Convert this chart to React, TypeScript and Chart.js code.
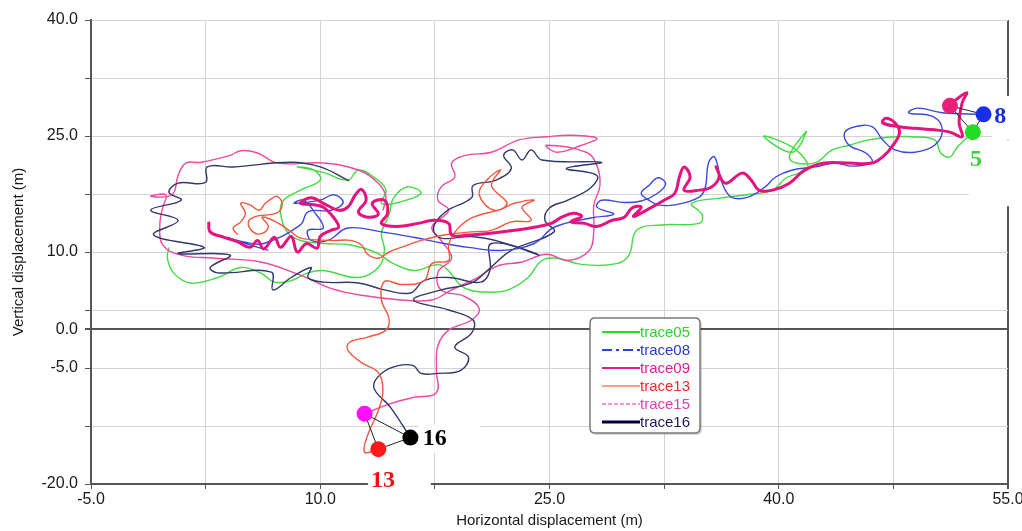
import React, { useEffect, useRef } from 'react';
import { Chart, registerables } from 'chart.js';

Chart.register(...registerables);

type P = [number, number];

// ---- axes ----
const xGrid = [-5, 2.5, 10, 17.5, 25, 32.5, 40, 47.5, 55];
const xLabels = [-5, 10, 25, 40, 55];
const yGrid = [-20, -12.5, -5, 0, 2.5, 10, 17.5, 25, 32.5, 40];
const yLabels = [-20, -5, 0, 10, 25, 40];

// ---- traces (horizontal m, vertical m) ----
const trace05: P[] = [
  [52.7, 25.5], [51.7, 23.6], [51.2, 22.3], [50.6, 22.8], [50.2, 24.5], [48.7, 24.9], [47.6, 24.9], [45.9, 24.5],
  [44.6, 23.8], [43.5, 23.2], [42.3, 21.5], [40.7, 22.1], [41.8, 25.6], [40.9, 22.9], [39.0, 25.0], [41.0, 23.4],
  [41.9, 20.8], [40.5, 19.6], [39.6, 18.0], [37.9, 17.4], [36.3, 17.0], [34.3, 16.3], [35.0, 14.8], [34.8, 13.7],
  [32.3, 13.5], [30.7, 12.8], [30.2, 9.6], [29.4, 8.5], [27.1, 8.4], [25.5, 9.2], [24.5, 8.9], [23.6, 6.7],
  [22.3, 5.1], [21.2, 4.8], [19.4, 5.4], [17.9, 8.3], [16.1, 7.6], [14.6, 8.7], [13.8, 9.8], [12.0, 10.9],
  [10.2, 11.1], [8.7, 11.5], [7.9, 12.4], [7.4, 15.0], [7.6, 16.7], [8.7, 18.0], [10.0, 19.3], [9.6, 20.6],
  [8.5, 21.0], [10.2, 20.3], [11.8, 19.3], [12.5, 20.6], [13.5, 19.7], [14.3, 18.0], [14.0, 16.3], [15.1, 16.4],
  [16.6, 17.6], [15.7, 18.4], [14.8, 17.0], [14.5, 14.8], [14.0, 12.4], [14.2, 10.2], [13.8, 8.0], [12.5, 6.7],
  [10.2, 7.6], [9.2, 7.3], [8.1, 6.3], [7.0, 6.1], [6.1, 7.3], [4.8, 8.0], [3.3, 6.7], [1.5, 6.0],
  [0.4, 7.3], [0.0, 9.2], [0.1, 10.6],
];

const trace08: P[] = [
  [53.4, 27.8], [50.7, 28.0], [49.1, 28.6], [48.5, 28.0], [50.1, 27.5], [50.7, 25.8], [50.2, 23.8], [48.9, 22.9],
  [47.6, 23.2], [46.8, 24.5], [46.1, 26.2], [45.0, 26.2], [44.3, 25.4], [44.6, 23.8], [45.7, 22.8], [46.1, 21.6],
  [44.8, 21.1], [43.7, 21.5], [42.4, 21.0], [40.9, 20.6], [39.8, 19.7], [39.1, 18.4], [38.0, 17.1], [36.9, 17.1],
  [36.3, 18.9], [35.8, 22.3], [35.4, 21.5], [35.2, 18.4], [34.8, 17.1], [33.2, 16.1], [32.1, 16.1], [31.5, 16.7],
  [31.0, 17.6], [31.5, 18.6], [32.1, 19.6], [32.6, 18.8], [32.0, 17.5], [31.0, 16.6], [29.9, 16.4], [28.4, 16.7],
  [28.1, 15.8], [29.2, 14.9], [27.7, 14.4], [25.3, 13.2], [24.0, 11.1], [21.8, 10.2], [19.7, 10.6], [18.1, 11.1],
  [16.1, 11.9], [14.0, 12.6], [11.8, 13.1], [10.5, 11.5], [9.4, 11.5], [9.2, 12.8], [10.2, 13.1], [9.6, 15.2],
  [8.9, 16.7], [8.3, 16.3], [10.0, 16.7], [10.9, 17.4], [11.5, 16.4], [10.7, 15.4], [9.2, 15.2], [8.7, 13.5],
  [6.3, 11.1], [5.0, 11.3], [3.9, 11.9], [4.6, 11.4], [6.6, 10.2],
];

const trace09: P[] = [
  [2.7, 13.9], [2.8, 12.6], [3.7, 11.9], [4.6, 11.3], [5.4, 10.6], [5.9, 11.5], [6.3, 10.4], [7.0, 11.9],
  [7.4, 10.6], [8.1, 12.0], [8.5, 10.0], [9.1, 11.1], [9.8, 10.5], [10.0, 12.0], [10.7, 12.8], [11.2, 13.2],
  [10.9, 14.4], [10.2, 15.8], [9.6, 16.1], [8.7, 16.3], [9.4, 17.0], [10.2, 16.3], [11.2, 15.4], [11.8, 15.8],
  [12.3, 17.4], [12.7, 18.1], [13.0, 16.7], [12.5, 15.2], [13.1, 14.5], [13.8, 14.9], [13.4, 16.3], [14.2, 16.7],
  [14.4, 15.0], [14.0, 13.7], [15.0, 13.3], [16.4, 13.7], [17.4, 14.1], [18.4, 13.7], [18.6, 12.2], [19.7, 12.2],
  [21.0, 12.4], [22.7, 12.8], [24.0, 13.2], [25.1, 13.7], [25.8, 14.5], [26.6, 15.0], [27.1, 14.6], [26.4, 13.9],
  [27.3, 13.7], [28.1, 13.3], [29.1, 14.1], [29.9, 14.5], [30.4, 15.7], [31.0, 15.8], [30.5, 14.6], [31.7, 15.8],
  [32.5, 16.7], [33.2, 17.6], [33.5, 19.7], [33.8, 21.0], [34.2, 19.7], [33.8, 18.0], [34.8, 18.0], [35.6, 18.4],
  [36.1, 19.7], [35.9, 21.0], [36.5, 18.9], [37.6, 20.2], [38.2, 19.3], [38.7, 18.0], [39.6, 18.0], [40.7, 18.9],
  [41.7, 20.6], [43.0, 21.5], [44.6, 21.5], [46.1, 21.5], [46.8, 22.3], [47.4, 23.6], [47.9, 25.4], [47.6, 26.7],
  [47.0, 27.3], [46.8, 26.7], [47.9, 26.2], [48.9, 26.0], [50.2, 25.8], [51.2, 25.5], [52.0, 24.9], [51.8, 26.7],
  [52.0, 29.3], [52.3, 30.6], [51.6, 29.7], [51.2, 28.9],
];

const trace13: P[] = [
  [4.6, 12.2], [4.3, 13.1], [4.8, 13.9], [5.1, 15.0], [4.8, 16.3], [5.4, 16.1], [6.0, 15.4], [6.4, 16.3],
  [6.9, 17.0], [7.2, 17.2], [7.5, 16.3], [7.3, 15.2], [6.6, 14.8], [5.8, 14.6], [5.3, 13.9], [5.6, 12.6],
  [6.2, 12.4], [6.6, 13.3], [6.2, 14.5], [7.1, 13.9], [8.1, 12.6], [8.7, 11.8], [10.7, 11.5], [12.0, 11.5],
  [12.7, 10.9], [13.1, 9.7], [13.8, 9.2], [14.5, 10.0], [15.3, 10.6], [16.6, 11.5], [18.1, 12.2], [19.9, 12.6],
  [21.2, 12.8], [22.5, 13.9], [23.8, 14.1], [23.2, 15.8], [24.0, 16.7], [22.7, 16.3], [21.4, 15.4], [20.4, 17.4],
  [20.9, 19.3], [21.8, 20.6], [21.2, 18.6], [22.2, 16.1], [19.9, 14.4], [18.9, 12.8], [18.4, 10.9], [18.4, 8.9],
  [17.3, 8.5], [16.8, 6.3], [15.3, 5.8], [14.2, 6.2], [14.0, 3.8], [14.5, 1.4], [14.3, -0.1], [13.1, -1.0],
  [11.9, -1.7], [11.8, -2.7], [12.7, -4.3], [13.8, -5.6], [14.1, -7.9], [13.8, -10.5], [13.1, -13.7], [12.9, -15.9],
  [13.8, -15.5],
];

const trace15: P[] = [
  [12.9, -10.9], [14.6, -9.6], [16.1, -8.8], [17.6, -8.2], [17.6, -5.3], [17.7, -2.1], [18.4, -0.1], [19.9, 1.2],
  [20.4, 2.7], [19.4, 4.3], [17.9, 5.1], [17.7, 7.4], [18.6, 9.2], [17.9, 11.5], [17.3, 13.2], [18.4, 15.4],
  [17.7, 16.7], [17.9, 18.4], [18.8, 19.7], [18.6, 21.5], [19.5, 22.5], [21.2, 22.9], [23.0, 24.5], [24.8, 24.9],
  [26.4, 25.1], [28.1, 24.7], [27.1, 23.8], [25.5, 22.9], [24.8, 23.8], [27.4, 22.9], [28.1, 21.2], [28.3, 18.6],
  [27.9, 16.1], [27.9, 12.8], [27.6, 10.2], [26.2, 8.9], [24.8, 9.7], [23.2, 8.7], [21.6, 8.2], [20.2, 6.6],
  [18.6, 5.1], [17.3, 3.8], [15.3, 3.8], [12.7, 4.4], [10.7, 5.3], [8.7, 7.0], [6.1, 8.7], [3.1, 9.2],
  [0.9, 9.6], [-0.3, 10.9], [-0.5, 13.5], [-0.3, 15.8], [-0.1, 17.4], [-1.1, 17.2], [0.3, 17.4], [0.7, 19.9],
  [1.2, 21.5], [2.2, 21.6], [4.1, 22.5], [4.8, 23.1], [5.9, 22.8], [7.2, 21.5], [10.2, 21.5], [12.5, 20.6],
  [13.8, 18.9], [14.3, 17.1], [14.1, 15.4],
];

const trace16: P[] = [
  [11.9, 19.2], [10.0, 21.0], [8.1, 21.6], [4.3, 21.0], [2.6, 21.0], [2.5, 19.0], [0.7, 18.9], [0.1, 17.7],
  [0.9, 16.7], [-1.1, 15.4], [0.7, 14.1], [-0.9, 12.2], [2.4, 10.6], [0.7, 9.8], [4.1, 9.6], [2.8, 8.0],
  [3.3, 7.3], [6.8, 7.4], [6.9, 5.1], [8.1, 6.7], [9.4, 8.0], [9.2, 6.7], [10.2, 6.1], [12.5, 6.0],
  [14.2, 5.1], [15.9, 4.7], [16.8, 6.3], [18.4, 6.7], [20.5, 6.1], [21.1, 7.6], [21.2, 11.1], [24.3, 9.6],
  [21.8, 11.3], [19.9, 12.0], [17.9, 11.8], [17.4, 13.1], [18.2, 15.2], [19.9, 17.0], [20.0, 18.6], [21.5, 19.3],
  [22.5, 20.8], [22.0, 22.5], [22.6, 23.2], [23.2, 21.9], [23.8, 23.2], [24.5, 21.9], [28.4, 21.6], [26.1, 20.8],
  [28.1, 19.9], [27.7, 18.3], [26.2, 16.7], [25.0, 15.7], [24.7, 14.1], [25.3, 12.6], [22.5, 10.2], [21.1, 7.9],
  [19.9, 6.0], [17.9, 5.1], [16.1, 3.8], [18.4, 2.5], [20.0, 1.2], [19.9, -0.5], [18.8, -2.3], [19.7, -3.6],
  [19.2, -5.3], [17.7, -5.7], [16.6, -5.7], [16.1, -4.7], [15.1, -4.7], [14.0, -5.7], [13.5, -7.5], [14.6, -10.1],
  [15.9, -14.0],
];

// ---- end markers ----
const dot05: P = [52.7, 25.5];
const dot08: P = [53.4, 27.8];
const dot09: P = [51.2, 28.9];
const dot13: P = [13.8, -15.5];
const dot15: P = [12.9, -10.9];
const dot16: P = [15.9, -14.0];

const markerTexts = ['16', '13', '8', '5'];
const markerTextPos: P[] = [[16.7, -14.0], [14.1, -19.4], [54.1, 27.6], [52.9, 22.0]];

const legendNames = ['trace05', 'trace08', 'trace09', 'trace13', 'trace15', 'trace16'];

// ---- styles ----
const SANS = '"Liberation Sans", Arial, Helvetica, sans-serif';
const markerTextStyle = [
  { color: '#000000', align: 'left', box: [-4, -13, 62, 28] },
  { color: '#ee1111', align: 'center', box: [-15, -13, 63, 28] },
  { color: '#1a2ee0', align: 'left', box: [-2, -20, 34, 44] },
  { color: '#3ccf3c', align: 'center', box: [-7, -19, 58, 66] },
];
const legendStyle = [
  { line: '#22e022', text: '#2fd02f', dash: [] as number[], width: 2 },
  { line: '#3040e0', text: '#2a3ad0', dash: [10, 4, 3, 4], width: 2 },
  { line: '#e0208a', text: '#e0209a', dash: [] as number[], width: 2 },
  { line: '#ff9c8c', text: '#ee2a2a', dash: [] as number[], width: 2 },
  { line: '#f070c0', text: '#e040b8', dash: [4, 2], width: 1.5 },
  { line: '#000040', text: '#1a1a5a', dash: [] as number[], width: 3 },
];

const toPts = (arr: P[]) => arr.map(([x, y]) => ({ x, y }));

function roundRect(ctx: CanvasRenderingContext2D, x: number, y: number, w: number, h: number, r: number) {
  ctx.beginPath();
  ctx.moveTo(x + r, y);
  ctx.lineTo(x + w - r, y);
  ctx.quadraticCurveTo(x + w, y, x + w, y + r);
  ctx.lineTo(x + w, y + h - r);
  ctx.quadraticCurveTo(x + w, y + h, x + w - r, y + h);
  ctx.lineTo(x + r, y + h);
  ctx.quadraticCurveTo(x, y + h, x, y + h - r);
  ctx.lineTo(x, y + r);
  ctx.quadraticCurveTo(x, y, x + r, y);
  ctx.closePath();
}

const annotPlugin = {
  id: 'annot',
  beforeDatasetsDraw(chart: any) {
    const { ctx, scales } = chart;
    ctx.save();
    ctx.fillStyle = '#ffffff';
    markerTextPos.forEach((p, i) => {
      const px = scales.x.getPixelForValue(p[0]);
      const py = scales.y.getPixelForValue(p[1]);
      const b = markerTextStyle[i].box;
      ctx.fillRect(px + b[0], py + b[1], b[2], b[3]);
    });
    ctx.restore();
  },
  afterDatasetsDraw(chart: any) {
    const { ctx, scales } = chart;
    ctx.save();
    // marker labels
    ctx.font = 'bold 24px "Liberation Serif", "Times New Roman", serif';
    ctx.textBaseline = 'middle';
    markerTextPos.forEach((p, i) => {
      const st = markerTextStyle[i];
      ctx.fillStyle = st.color;
      ctx.textAlign = st.align as CanvasTextAlign;
      ctx.fillText(markerTexts[i], scales.x.getPixelForValue(p[0]), scales.y.getPixelForValue(p[1]) + 1);
    });
    // legend
    const lx = 590, ly = 318, lw = 110, lh = 115;
    ctx.fillStyle = 'rgba(0,0,0,0.15)';
    roundRect(ctx, lx + 2, ly + 2, lw, lh, 5);
    ctx.fill();
    ctx.fillStyle = '#ffffff';
    roundRect(ctx, lx, ly, lw, lh, 5);
    ctx.fill();
    ctx.strokeStyle = '#7a7a7a';
    ctx.lineWidth = 1.5;
    ctx.stroke();
    ctx.font = '15px ' + SANS;
    ctx.textAlign = 'left';
    ctx.textBaseline = 'middle';
    legendNames.forEach((name, i) => {
      const st = legendStyle[i];
      const yy = ly + 14 + i * 18;
      ctx.beginPath();
      ctx.setLineDash(st.dash);
      ctx.strokeStyle = st.line;
      ctx.lineWidth = st.width;
      ctx.moveTo(lx + 12, yy);
      ctx.lineTo(lx + 50, yy);
      ctx.stroke();
      ctx.setLineDash([]);
      ctx.fillStyle = st.text;
      ctx.fillText(name, lx + 50, yy + 1);
    });
    ctx.restore();
  },
};

export default function App() {
  const canvasRef = useRef<HTMLCanvasElement | null>(null);

  useEffect(() => {
    if (!canvasRef.current) return;
    const lineDs = (label: string, data: P[], color: string, width: number, order: number) => ({
      label,
      data: toPts(data),
      showLine: true,
      borderColor: color,
      backgroundColor: color,
      borderWidth: width,
      pointRadius: 0,
      tension: 0.4,
      fill: false,
      order,
    });
    const chart = new Chart(canvasRef.current, {
      type: 'scatter',
      data: {
        datasets: [
          {
            label: 'markers',
            data: toPts([dot15, dot16, dot13, dot09, dot08, dot05]),
            showLine: false,
            pointRadius: 8,
            pointBorderWidth: 0,
            pointBackgroundColor: ['#ff10ff', '#000000', '#ff1a1a', '#e8207a', '#1a2ee8', '#22dd22'],
            order: 0,
          } as any,
          {
            label: 'linksBottom',
            data: toPts([dot15, dot16, dot13, dot15]),
            showLine: true,
            borderColor: '#222222',
            borderWidth: 1,
            pointRadius: 0,
            tension: 0,
            order: 1,
          },
          {
            label: 'linksTop',
            data: toPts([dot09, dot08, dot05, dot09]),
            showLine: true,
            borderColor: '#222222',
            borderWidth: 1,
            pointRadius: 0,
            tension: 0,
            order: 1,
          },
          lineDs('trace09', trace09, '#e6127e', 3, 2),
          lineDs('trace13', trace13, '#f0583e', 1.4, 3),
          lineDs('trace08', trace08, '#3a4ad8', 1.4, 4),
          lineDs('trace16', trace16, '#35386a', 1.4, 5),
          lineDs('trace15', trace15, '#ee4aa0', 1.4, 6),
          lineDs('trace05', trace05, '#40dc40', 1.4, 7),
        ],
      },
      options: {
        animation: false,
        responsive: true,
        maintainAspectRatio: false,
        layout: { padding: { left: 0, right: 14, top: 20, bottom: 0 } },
        plugins: { legend: { display: false }, tooltip: { enabled: false } },
        scales: {
          x: {
            type: 'linear',
            min: -5,
            max: 55,
            afterBuildTicks: (s: any) => {
              s.ticks = xGrid.map((v) => ({ value: v }));
            },
            afterFit: (s: any) => {
              s.height = 47;
              s.paddingLeft = 0;
              s.paddingRight = 0;
            },
            ticks: {
              autoSkip: false,
              maxRotation: 0,
              padding: 1,
              color: '#1a1a1a',
              font: { family: SANS, size: 16 },
              callback: (v: any) => (xLabels.includes(Number(v)) ? Number(v).toFixed(1) : ''),
            },
            grid: {
              color: (c: any) => (c.tick && c.tick.value === 55 ? '#555555' : '#d4d4d4'),
              lineWidth: (c: any) => (c.tick && c.tick.value === 55 ? 2 : 1),
              tickLength: 5,
              tickColor: '#555555',
            },
            border: { display: true, color: '#555555', width: 2 },
            title: {
              display: true,
              text: 'Horizontal displacement (m)',
              color: '#1a1a1a',
              font: { family: SANS, size: 15 },
              padding: { top: 0, bottom: 1 },
            },
          },
          y: {
            type: 'linear',
            min: -20,
            max: 40,
            afterBuildTicks: (s: any) => {
              s.ticks = yGrid.map((v) => ({ value: v }));
            },
            afterFit: (s: any) => {
              s.width = 91;
              s.paddingTop = 0;
              s.paddingBottom = 0;
            },
            ticks: {
              autoSkip: false,
              padding: 7,
              color: '#1a1a1a',
              font: { family: SANS, size: 16 },
              callback: (v: any) => (yLabels.includes(Number(v)) ? Number(v).toFixed(1) : ''),
            },
            grid: {
              color: (c: any) => (c.tick && c.tick.value === 0 ? '#555555' : '#d4d4d4'),
              lineWidth: (c: any) => (c.tick && c.tick.value === 0 ? 2 : 1),
              tickLength: 6,
              tickColor: '#555555',
            },
            border: { display: true, color: '#555555', width: 2 },
            title: {
              display: true,
              text: 'Vertical displacement (m)',
              color: '#1a1a1a',
              font: { family: SANS, size: 15 },
              padding: { top: 10, bottom: 0 },
            },
          },
        },
      } as any,
      plugins: [annotPlugin],
    });
    return () => chart.destroy();
  }, []);

  return (
    <div style={{ position: 'absolute', left: 0, top: 0, width: 1022, height: 531, background: '#fff' }}>
      <canvas ref={canvasRef} />
    </div>
  );
}
